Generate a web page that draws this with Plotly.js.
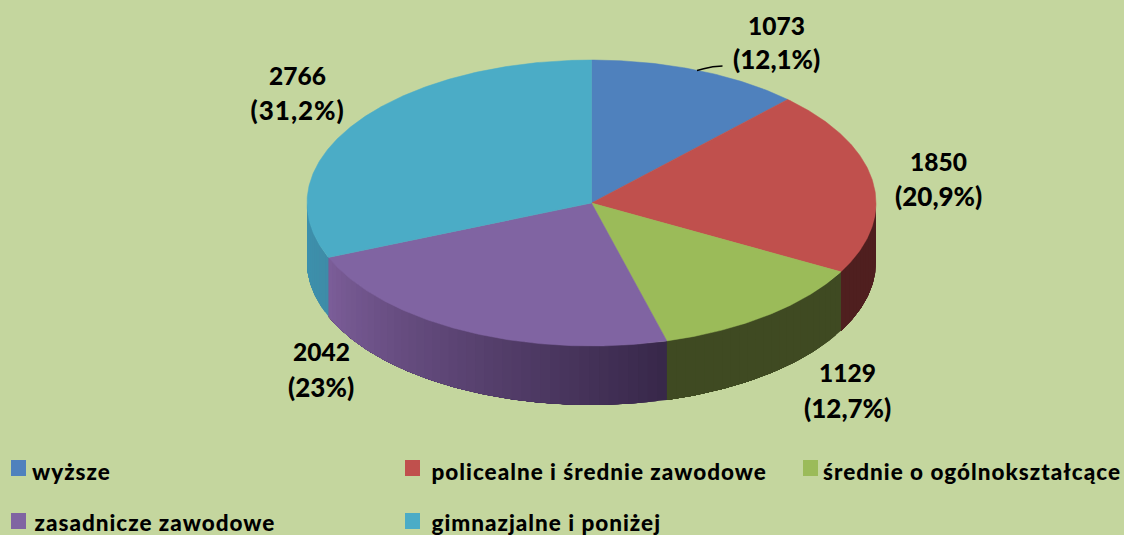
<!DOCTYPE html>
<html><head><meta charset="utf-8">
<script src="https://cdn.plot.ly/plotly-3.0.1.min.js"></script>
<style>html,body{margin:0;padding:0;background:#c4d69e}#c{width:1124px;height:535px}
.annotation:nth-child(n+11) text{letter-spacing:1px}
.annotation:nth-child(n+11):nth-child(-n+12) text{letter-spacing:1px}</style>
</head><body><div id="c"></div>
<script>
const categories=["wyższe","policealne i średnie zawodowe","średnie o ogólnokształcące","zasadnicze zawodowe","gimnazjalne i poniżej"];
const values=[1073,1850,1129,2042,2766];
const percentLabels=["(12,1%)","(20,9%)","(12,7%)","(23%)","(31,2%)"];
const topColors=["#4f81bd","#c0504d","#9bbb59","#8064a2","#4bacc6"];

const cx=591.5, cy=203, rx=284.5, ry=143, depth=59;
const labelPos=[[776,25,59],[938,161,196],[847,372,408],[321,351,387],[297,75,110]];
// square left, text centre, text middle y, square middle y
const legendPos=[[11,71.5,471,468],[405,598.5,471,468],[803,972,471,468],[11,155,522,521],[405,546.5,522,521]];
const bg="#c4d69e";
const wallFrom=[null,"#4f1f1f","#3f4a22","#7b5d98","#3c92ad"];
const wallTo=[null,"#4f1f1f","#3f4a22","#38284a","#3e8ca8"];

const total=values.reduce((a,b)=>a+b,0);
const rad=d=>d*Math.PI/180;
const px=a=>cx+rx*Math.sin(rad(a));
const py=a=>cy-ry*Math.cos(rad(a));
function hex(c){return [1,3,5].map(i=>parseInt(c.substr(i,2),16));}
function mix(a,b,t){const A=hex(a),B=hex(b);return "rgb("+A.map((v,i)=>Math.round(v+(B[i]-v)*t)).join(",")+")";}

const traces=[], wedges=[];
let start=0;
values.forEach((v,i)=>{
  const end=start+v/total*360;
  const w0=Math.max(start,90), w1=Math.min(end,270);
  if(w1>w0){
    const n=Math.max(1,Math.ceil((w1-w0)/2));
    // nested strips: each is painted from its own start to the wall's left end, so no seams show
    for(let k=0;k<n;k++){
      const a0=w0+(w1-w0)*k/n;
      const t=1-k/Math.max(1,n-1);
      const col=mix(wallFrom[i],wallTo[i],t);
      const xs=[],ys=[];
      const m=Math.ceil((w1-a0)/0.5);
      for(let j=0;j<=m;j++){const a=a0+(w1-a0)*j/m;xs.push(px(a));ys.push(py(a));}
      for(let j=m;j>=0;j--){const a=a0+(w1-a0)*j/m;xs.push(px(a));ys.push(py(a)+depth);}
      xs.push(xs[0]);ys.push(ys[0]);
      traces.push({type:"scatter",mode:"lines",x:xs,y:ys,fill:"toself",fillcolor:col,
        line:{width:0},hoverinfo:"skip",showlegend:false});
    }
  }
  const xs=[cx],ys=[cy];
  const n=Math.ceil((end-start)/0.5);
  for(let j=0;j<=n;j++){const a=start+(end-start)*j/n;xs.push(px(a));ys.push(py(a));}
  xs.push(cx);ys.push(cy);
  wedges.push({type:"scatter",mode:"lines",x:xs,y:ys,fill:"toself",fillcolor:topColors[i],
    line:{color:topColors[i],width:0.5},name:categories[i],
    text:categories[i]+": "+v,hoverinfo:"text",showlegend:false});
  start=end;
});

const annotations=[], shapes=[];
const lab=(x,y,t,size)=>annotations.push({xref:"x",yref:"y",x,y,text:t,showarrow:false,
  xanchor:"center",yanchor:"middle",borderpad:0,font:{family:"Lato, sans-serif",size,color:"#000",weight:900}});
values.forEach((v,i)=>{
  const p=labelPos[i];
  lab(p[0],p[1],String(v),24.5);
  lab(p[0],p[2],percentLabels[i],26);
});
categories.forEach((c,i)=>{
  const p=legendPos[i];
  lab(p[1],p[2],c,22.5);
  shapes.push({type:"rect",xref:"x",yref:"y",x0:p[0],x1:p[0]+15,y0:p[3]-8,y1:p[3]+8,
    fillcolor:topColors[i],line:{width:0}});
});
shapes.push({type:"path",xref:"x",yref:"y",path:"M697,70.5 C705,69 708,66 722.5,66",
  line:{color:"#000",width:1.4}});

Plotly.newPlot("c",traces.concat(wedges),{
  width:1124,height:535,margin:{l:0,r:0,t:0,b:0},
  paper_bgcolor:bg,plot_bgcolor:bg,showlegend:false,
  xaxis:{range:[0,1124],visible:false,fixedrange:true},
  yaxis:{range:[535,0],visible:false,fixedrange:true},
  annotations,shapes
},{displayModeBar:false});
</script></body></html>
